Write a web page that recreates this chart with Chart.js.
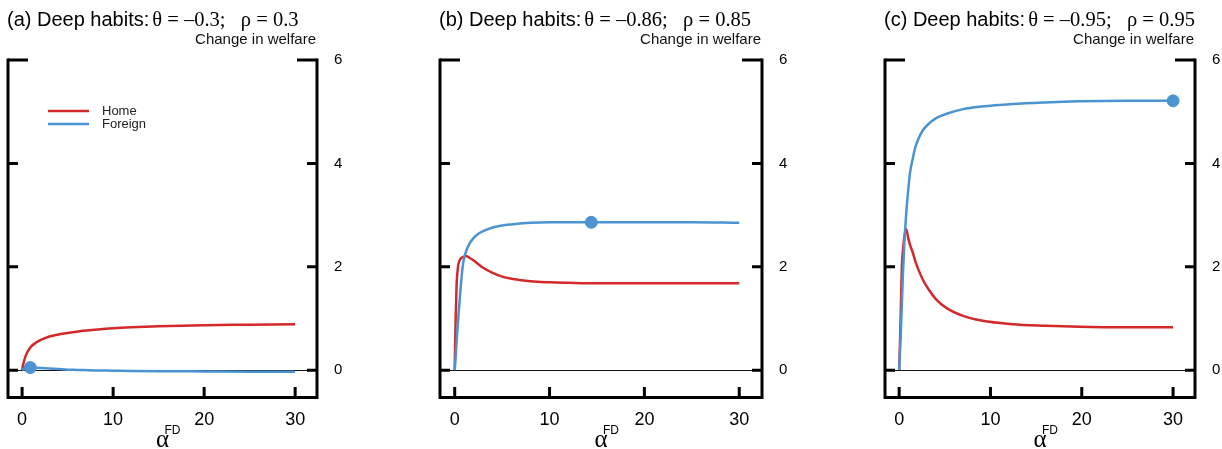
<!DOCTYPE html>
<html>
<head>
<meta charset="utf-8">
<script src="https://cdn.jsdelivr.net/npm/chart.js@4.4.0/dist/chart.umd.min.js"></script>
<style>
  html, body { margin: 0; padding: 0; background: #fff; width: 1222px; height: 449px; overflow: hidden; }
  canvas { position: absolute; top: 0; }
</style>
</head>
<body>
<canvas id="panel-a"></canvas>
<canvas id="panel-b"></canvas>
<canvas id="panel-c"></canvas>
<script>
const X_TICKS = [0, 10, 20, 30]
const Y_TICKS = [0, 2, 4, 6]
const SERIES_LABELS = ['Home', 'Foreign']

// panel (a) theta = -0.3, rho = 0.3
const A_ALPHA = [0, 0.1, 0.25, 0.5, 0.75, 1, 1.5, 2, 3, 4, 5, 6, 8, 10, 12, 15, 20, 25, 30]
const A_HOME = [0, 0.1, 0.2, 0.32, 0.4, 0.46, 0.53, 0.58, 0.65, 0.69, 0.72, 0.745, 0.78, 0.81, 0.83, 0.85, 0.87, 0.88, 0.89]
const A_FOREIGN = [0, 0.015, 0.03, 0.045, 0.05, 0.05, 0.045, 0.04, 0.03, 0.02, 0.01, 0.005, -0.005, -0.01, -0.015, -0.02, -0.025, -0.03, -0.03]
const A_MARKER = [0.9, 0.05]

// panel (b) theta = -0.86, rho = 0.85
const B_ALPHA = [0, 0.1, 0.2, 0.35, 0.5, 0.7, 0.9, 1.2, 1.6, 2, 2.5, 3, 4, 5, 6, 8, 10, 12, 15, 20, 25, 30]
const B_HOME = [0, 1.0, 1.65, 2.0, 2.12, 2.17, 2.19, 2.21, 2.17, 2.12, 2.05, 1.98, 1.88, 1.81, 1.77, 1.72, 1.7, 1.69, 1.68, 1.68, 1.68, 1.68]
const B_FOREIGN = [0, 0.25, 0.55, 0.95, 1.3, 1.75, 2.08, 2.3, 2.46, 2.56, 2.64, 2.69, 2.76, 2.8, 2.82, 2.85, 2.86, 2.86, 2.86, 2.86, 2.86, 2.85]
const B_MARKER = [14.4, 2.86]

// panel (c) theta = -0.95, rho = 0.95
const C_ALPHA = [0, 0.1, 0.2, 0.3, 0.4, 0.55, 0.76, 1.0, 1.2, 1.5, 1.75, 2.1, 2.6, 3.2, 4.1, 5.2, 7, 9, 12.4, 16, 19.7, 25, 30]
const C_HOME = [0, 0.58, 1.3, 2.0, 2.3, 2.55, 2.73, 2.55, 2.42, 2.27, 2.12, 1.95, 1.75, 1.57, 1.36, 1.2, 1.05, 0.96, 0.89, 0.86, 0.84, 0.83, 0.83]
const C_FOREIGN = [0, 0.4, 0.8, 1.3, 1.8, 2.4, 3.0, 3.5, 3.83, 4.1, 4.3, 4.47, 4.64, 4.76, 4.88, 4.96, 5.05, 5.1, 5.15, 5.18, 5.2, 5.21, 5.21]
const C_MARKER = [30, 5.21]

const RED = '#d3292b'
const BLUE = '#4b93d1'
const SANS = '"Liberation Sans", Arial, sans-serif'
const SERIF = '"Liberation Serif", "Times New Roman", serif'

const CANVAS_H = 449
const TOP = 60
const BOTTOM = 396
const RIGHT_GUTTER = 40

const toPoints = (xs, ys) => xs.map((x, i) => ({ x, y: ys[i] }))

const framePlugin = {
  id: 'frame',
  beforeDatasetsDraw(chart) {
    const { ctx, chartArea, scales } = chart
    const y0 = Math.round(scales.y.getPixelForValue(0)) + 0.5
    ctx.save()
    ctx.strokeStyle = '#111'
    ctx.lineWidth = 1
    ctx.beginPath()
    ctx.moveTo(chartArea.left, y0)
    ctx.lineTo(chartArea.right, y0)
    ctx.stroke()
    ctx.restore()
  },
  afterDatasetsDraw(chart, args, opts) {
    const { ctx, chartArea, scales } = chart
    const { left, right, top, bottom } = chartArea
    ctx.save()
    ctx.strokeStyle = '#000'
    ctx.lineWidth = 3
    ctx.lineCap = 'butt'
    ctx.beginPath()
    ctx.moveTo(left, top - 1.5)
    ctx.lineTo(left, bottom + 1.5)
    ctx.lineTo(right, bottom + 1.5)
    ctx.lineTo(right, top - 1.5)
    ctx.stroke()

    // inward tick marks
    Y_TICKS.forEach(v => {
      const y = scales.y.getPixelForValue(v)
      const len = v === Y_TICKS[Y_TICKS.length - 1] ? 20 : 10
      ctx.beginPath()
      ctx.moveTo(left, y)
      ctx.lineTo(left + len, y)
      ctx.moveTo(right, y)
      ctx.lineTo(right - len, y)
      ctx.stroke()
    })
    X_TICKS.forEach(v => {
      const x = scales.x.getPixelForValue(v)
      ctx.beginPath()
      ctx.moveTo(x, bottom)
      ctx.lineTo(x, bottom - 9)
      ctx.stroke()
    })

    // titles
    ctx.fillStyle = '#000'
    ctx.textBaseline = 'alphabetic'
    ctx.textAlign = 'left'
    ctx.font = '20px ' + SANS
    ctx.fillText(opts.title, left - 1, 26)
    const w = ctx.measureText(opts.title).width
    ctx.font = '20.5px ' + SERIF
    ctx.fillText(opts.params, left + w + 2, 26)

    ctx.font = '15px ' + SANS
    ctx.fillStyle = '#111'
    ctx.textAlign = 'right'
    ctx.fillText('Change in welfare', right - 1, 44)

    // x axis label
    const cx = (left + right) / 2
    ctx.fillStyle = '#000'
    ctx.textAlign = 'center'
    ctx.font = '25px ' + SERIF
    ctx.fillText('α', cx, 447)
    ctx.textAlign = 'left'
    ctx.font = '12px ' + SANS
    ctx.fillText('FD', cx + 2, 434)

    // legend
    if (opts.legend) {
      ctx.lineWidth = 2.5
      chart.data.datasets.filter(d => SERIES_LABELS.includes(d.label)).forEach(d => {
        const i = SERIES_LABELS.indexOf(d.label)
        const y = 111 + i * 13
        ctx.strokeStyle = d.borderColor
        ctx.beginPath()
        ctx.moveTo(left + 40, y)
        ctx.lineTo(left + 81, y)
        ctx.stroke()
        ctx.fillStyle = '#222'
        ctx.font = '13px ' + SANS
        ctx.textBaseline = 'middle'
        ctx.fillText(d.label, left + 94, y)
      })
    }
    ctx.restore()
  }
}

const makePanel = (id, axisLeft, axisRight, alpha, home, foreign, marker, title, params, legend) => {
  const canvas = document.getElementById(id)
  const width = axisRight - axisLeft + 8 + RIGHT_GUTTER
  canvas.width = width
  canvas.height = CANVAS_H
  canvas.style.left = (axisLeft - 8) + 'px'
  canvas.style.width = width + 'px'
  canvas.style.height = CANVAS_H + 'px'

  return new Chart(canvas.getContext('2d'), {
    type: 'line',
    data: {
      datasets: [
        {
          label: 'marker',
          type: 'scatter',
          data: [{ x: marker[0], y: marker[1] }],
          pointRadius: 6,
          pointBackgroundColor: BLUE,
          pointBorderColor: BLUE,
          order: 0
        },
        {
          label: SERIES_LABELS[1],
          data: toPoints(alpha, foreign),
          borderColor: BLUE,
          borderWidth: 2.5,
          pointRadius: 0,
          cubicInterpolationMode: 'monotone',
          fill: false,
          order: 1
        },
        {
          label: SERIES_LABELS[0],
          data: toPoints(alpha, home),
          borderColor: RED,
          borderWidth: 2.5,
          pointRadius: 0,
          cubicInterpolationMode: 'monotone',
          fill: false,
          order: 2
        }
      ]
    },
    options: {
      responsive: false,
      animation: false,
      devicePixelRatio: 1,
      layout: { padding: { left: 8, top: TOP, right: 0, bottom: 0 } },
      plugins: {
        legend: { display: false },
        tooltip: { enabled: false },
        frame: { title, params, legend }
      },
      scales: {
        x: {
          type: 'linear',
          position: 'bottom',
          min: -1.55,
          max: 32.4,
          grid: { display: false, drawTicks: false },
          border: { display: false },
          ticks: { color: '#000', font: { family: SANS, size: 18 }, padding: 13 },
          afterBuildTicks: scale => { scale.ticks = X_TICKS.map(value => ({ value })) },
          afterFit: scale => { scale.height = CANVAS_H - BOTTOM }
        },
        y: {
          type: 'linear',
          position: 'right',
          min: -0.5,
          max: 6,
          grid: { display: false, drawTicks: false },
          border: { display: false },
          ticks: { color: '#000', font: { family: SANS, size: 15 }, padding: 17 },
          afterBuildTicks: scale => { scale.ticks = Y_TICKS.map(value => ({ value })) },
          afterFit: scale => { scale.width = RIGHT_GUTTER }
        }
      }
    },
    plugins: [framePlugin]
  })
}

makePanel('panel-a', 8, 317, A_ALPHA, A_HOME, A_FOREIGN, A_MARKER,
  '(a) Deep habits:', 'θ = \u20130.3;   ρ = 0.3', true)
makePanel('panel-b', 440, 762, B_ALPHA, B_HOME, B_FOREIGN, B_MARKER,
  '(b) Deep habits:', 'θ = \u20130.86;   ρ = 0.85', false)
makePanel('panel-c', 885, 1195, C_ALPHA, C_HOME, C_FOREIGN, C_MARKER,
  '(c) Deep habits:', 'θ = \u20130.95;   ρ = 0.95', false)
</script>
</body>
</html>
